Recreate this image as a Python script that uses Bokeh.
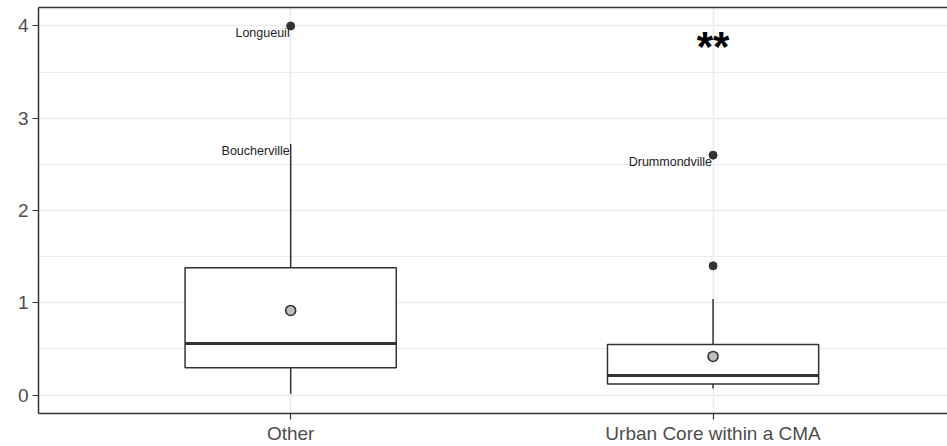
from bokeh.plotting import figure
from bokeh.models import Range1d, FixedTicker, SingleIntervalTicker, ColumnDataSource, LinearAxis
from bokeh.core.properties import value
from bokeh.embed import file_html
from bokeh.resources import INLINE

# ---- data ----
categories = ["Other", "Urban Core within a CMA"]
q1 = [0.296, 0.119]
median = [0.559, 0.212]
q3 = [1.379, 0.548]
whisker_low = [0.014, 0.072]
whisker_high = [2.72, 1.04]
mean = [0.917, 0.418]

outlier_group = ["Other", "Urban Core within a CMA", "Urban Core within a CMA"]
outlier_value = [4.0, 2.60, 1.40]

label_group = ["Other", "Other", "Urban Core within a CMA"]
label_value = [4.0, 2.72, 2.60]
label_text = ["Longueuil", "Boucherville", "Drummondville"]

sig_group = ["Urban Core within a CMA"]
sig_value = [3.78]
sig_text = ["**"]

# ---- derived positions ----
pos = {c: i + 1 for i, c in enumerate(categories)}
xs = [pos[c] for c in categories]
box_w = 0.5

box_src = ColumnDataSource(dict(
    x=xs, x0=[x - box_w / 2 for x in xs], x1=[x + box_w / 2 for x in xs],
    q1=q1, med=median, q3=q3, lo=whisker_low, hi=whisker_high, mean=mean,
))
out_src = ColumnDataSource(dict(x=[pos[g] for g in outlier_group], y=outlier_value))
lab_src = ColumnDataSource(dict(x=[pos[g] for g in label_group], y=label_value, t=label_text))
sig_src = ColumnDataSource(dict(x=[pos[g] for g in sig_group], y=sig_value, t=sig_text))

DARK = "#333333"
GRID = "#EBEBEB"
FONT = "Liberation Sans"

p = figure(width=947, height=446,
           x_range=Range1d(0.403, 2.555), y_range=Range1d(-0.2, 4.2),
           output_backend="svg", toolbar_location=None,
           min_border_left=38, min_border_right=0, min_border_top=7, min_border_bottom=32)
p.background_fill_color = "white"
p.border_fill_color = "white"
p.outline_line_color = None

xax = p.below[0]
yax = p.left[0]

yt = SingleIntervalTicker(interval=1, num_minor_ticks=2)
yax.ticker = yt
p.ygrid.ticker = yt
xax.ticker = FixedTicker(ticks=xs)
p.xgrid.ticker = FixedTicker(ticks=xs)
xax.major_label_overrides = {x: c for x, c in zip(xs, categories)}

for ax in (xax, yax):
    ax.axis_line_color = DARK
    ax.axis_line_width = 1.5
    ax.major_tick_line_color = DARK
    ax.major_tick_line_width = 1.2
    ax.major_tick_in = 0
    ax.minor_tick_in = 0
    ax.minor_tick_out = 0
    ax.major_label_text_color = "#4D4D4D"
    ax.major_label_text_font = FONT
    ax.major_label_text_font_size = "19px"

yax.major_tick_out = 6
yax.major_label_standoff = 4
xax.major_tick_out = 6
xax.major_label_standoff = 3

p.xgrid.grid_line_color = GRID
p.xgrid.grid_line_width = 1.5
p.ygrid.grid_line_color = GRID
p.ygrid.grid_line_width = 1.5
p.ygrid.minor_grid_line_color = GRID
p.ygrid.minor_grid_line_width = 1

# top border via an empty axis
top_axis = LinearAxis(ticker=FixedTicker(ticks=[]), major_label_text_font_size="0px",
                      axis_line_color=DARK, axis_line_width=1.5,
                      major_tick_out=0, major_tick_in=0, minor_tick_out=0, minor_tick_in=0,
                      major_label_standoff=0)
p.add_layout(top_axis, "above")

LW = 1.5
# whiskers
p.segment(x0="x", y0="q3", x1="x", y1="hi", source=box_src, line_color=DARK, line_width=LW)
p.segment(x0="x", y0="q1", x1="x", y1="lo", source=box_src, line_color=DARK, line_width=LW)
# boxes
p.quad(left="x0", right="x1", bottom="q1", top="q3", source=box_src,
       fill_color="white", line_color=DARK, line_width=LW)
# medians
p.segment(x0="x0", y0="med", x1="x1", y1="med", source=box_src, line_color=DARK, line_width=3)
# outliers
p.scatter(x="x", y="y", source=out_src, size=8, fill_color=DARK, line_color=DARK)
# means
p.scatter(x="x", y="mean", source=box_src, size=10, fill_color="#BEBEBE",
          line_color=DARK, line_width=1.6)
# point labels
p.text(x="x", y="y", text="t", source=lab_src, text_font=value(FONT),
       text_font_size="12.5px", text_color="#222222", text_align="right",
       text_baseline="top", x_offset=-1, y_offset=0)
# significance
p.text(x="x", y="y", text="t", source=sig_src, text_font=value(FONT),
       text_font_size="42px", text_font_style="bold", text_color="black",
       text_align="center", text_baseline="alphabetic")

open("out.html", "w").write(file_html(p, INLINE))
